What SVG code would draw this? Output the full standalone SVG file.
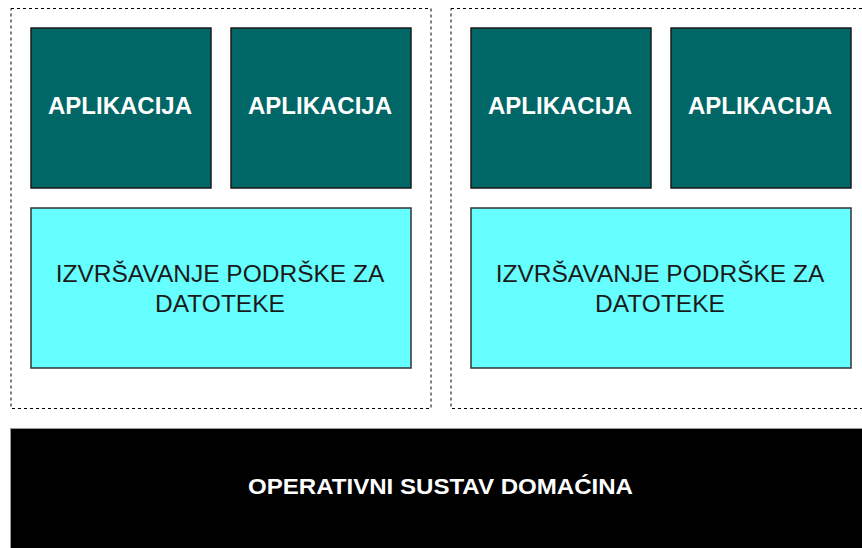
<svg xmlns="http://www.w3.org/2000/svg" width="862" height="548" viewBox="0 0 862 548">
<style>
.cont{fill:none;stroke:#000;stroke-width:1;stroke-dasharray:3 3;}
.app{fill:#006666;stroke:#1a1a1a;stroke-width:1.5;}
.rt{fill:#66FFFF;stroke:#333;stroke-width:1.5;}
.os{fill:#000;stroke:#999;stroke-width:1;}
.apt{font-family:"Liberation Sans",Arial,sans-serif;font-size:24px;font-weight:bold;fill:#fff;text-anchor:middle;}
.rtt{font-family:"Liberation Sans",Arial,sans-serif;font-size:24.5px;fill:#1a1a1a;text-anchor:middle;}
.ost{font-family:"Liberation Sans",Arial,sans-serif;font-size:22px;font-weight:bold;fill:#fff;text-anchor:middle;}
</style>
<rect width="862" height="548" fill="#fff"/>
<g id="container1"><rect class="cont" x="11" y="8.5" width="420" height="400"/></g>
<g id="container2"><rect class="cont" x="451" y="8.5" width="420" height="400"/></g>
<g id="app1"><rect class="app" x="31" y="28" width="180" height="160"/><text class="apt" x="120" y="114">APLIKACIJA</text></g>
<g id="app2"><rect class="app" x="231" y="28" width="180" height="160"/><text class="apt" x="320" y="114">APLIKACIJA</text></g>
<g id="app3"><rect class="app" x="471" y="28" width="180" height="160"/><text class="apt" x="560" y="114">APLIKACIJA</text></g>
<g id="app4"><rect class="app" x="671" y="28" width="180" height="160"/><text class="apt" x="760" y="114">APLIKACIJA</text></g>
<g id="runtime1"><rect class="rt" x="31" y="208" width="380" height="160"/><text class="rtt" x="220" y="282">IZVRŠAVANJE PODRŠKE ZA</text><text class="rtt" x="220" y="312">DATOTEKE</text></g>
<g id="runtime2"><rect class="rt" x="471" y="208" width="380" height="160"/><text class="rtt" x="660" y="282">IZVRŠAVANJE PODRŠKE ZA</text><text class="rtt" x="660" y="312">DATOTEKE</text></g>
<g id="hostos"><rect class="os" x="10.5" y="428.5" width="860" height="130"/><text class="ost" x="440.5" y="494" textLength="385" lengthAdjust="spacingAndGlyphs">OPERATIVNI SUSTAV DOMAĆINA</text></g>
<g id="connectors"></g>
</svg>
